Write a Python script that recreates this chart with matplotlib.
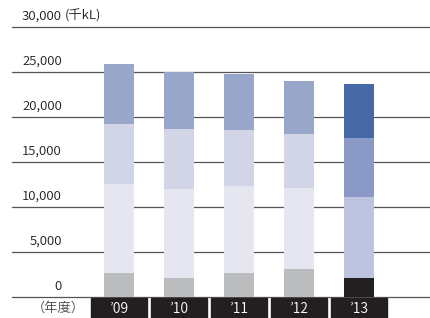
import matplotlib
matplotlib.use("Agg")
import matplotlib.pyplot as plt
import matplotlib.transforms as mtransforms
from matplotlib.patches import Rectangle

plt.rcParams['font.family'] = ['Noto Sans CJK JP', 'DejaVu Sans']

# Data (thousand kL), bottom segment first
years = ["’09", "’10", "’11", "’12", "’13"]
seg1 = [2600, 2050, 2600, 3050, 2050]
seg2 = [9900, 9900, 9700, 9000, 9000]
seg3 = [6650, 6650, 6200, 6000, 6550]
seg4 = [6650, 6350, 6200, 5900, 6000]
yticks = [0, 5000, 10000, 15000, 20000, 25000, 30000]
unit_label = "(千kL)"
year_unit = "（年度）"

# colours: first four years share a palette, last year highlighted
old_colors = ["#bbbcbe", "#e6e6f1", "#d2d5e6", "#98a7c9"]
new_colors = ["#231f20", "#bec4df", "#8a99c5", "#4669a6"]

W, H = 431, 318
fig = plt.figure(figsize=(W / 100, H / 100), dpi=100)
# axes: left edge at 12px, zero line at 296.5px from top
ax = fig.add_axes([12 / W, 1 - 296.5 / H, 1 - 12 / W, 296.5 / H])

x = list(range(len(years)))
segments = [seg1, seg2, seg3, seg4]
bottoms = [0] * len(years)
for k, seg in enumerate(segments):
    cols = [new_colors[k] if i == len(years) - 1 else old_colors[k] for i in x]
    ax.bar(x, seg, width=0.5, bottom=bottoms, color=cols, zorder=3, linewidth=0)
    bottoms = [b + v for b, v in zip(bottoms, seg)]

ax.set_xlim((12 - 119) / 60, (431 - 119) / 60)
ax.set_ylim(0, 296.5 * 5000 / 45)

for v in yticks:
    ax.axhline(v, color="#555555", lw=0.9, zorder=1, clip_on=False)

# tick labels sit above their gridlines, right aligned
label_x = (62 - 119) / 60
for v in yticks:
    ax.annotate(f"{v:,}", xy=(label_x, v), xytext=(0, 7.5), textcoords="offset points",
                ha="right", va="center", fontsize=9.5, color="#231f20", fontweight=350)
ax.annotate(unit_label, xy=((65 - 119) / 60, yticks[-1]), xytext=(0, 7.5),
            textcoords="offset points", ha="left", va="center", fontsize=9.5,
            color="#231f20", fontweight=350)

# year boxes under the axis
trans = mtransforms.blended_transform_factory(ax.transData, ax.transAxes)
box_h = 21.5 / 296.5
for i, lab in zip(x, years):
    ax.add_patch(Rectangle((i - 0.47, -box_h - 0.005), 0.94, box_h, transform=trans,
                           color="#231f20", clip_on=False, zorder=4))
    ax.text(i, -box_h / 2 - 0.005, lab, transform=trans, ha="center", va="center",
            fontsize=10, color="white", zorder=5, fontweight=350)
ax.text((58 - 119) / 60, -box_h / 2 - 0.005, year_unit, transform=trans, ha="center",
        va="center", fontsize=9.5, color="#444444", fontweight=350)

ax.axis("off")
fig.savefig("out.png", dpi=100)
